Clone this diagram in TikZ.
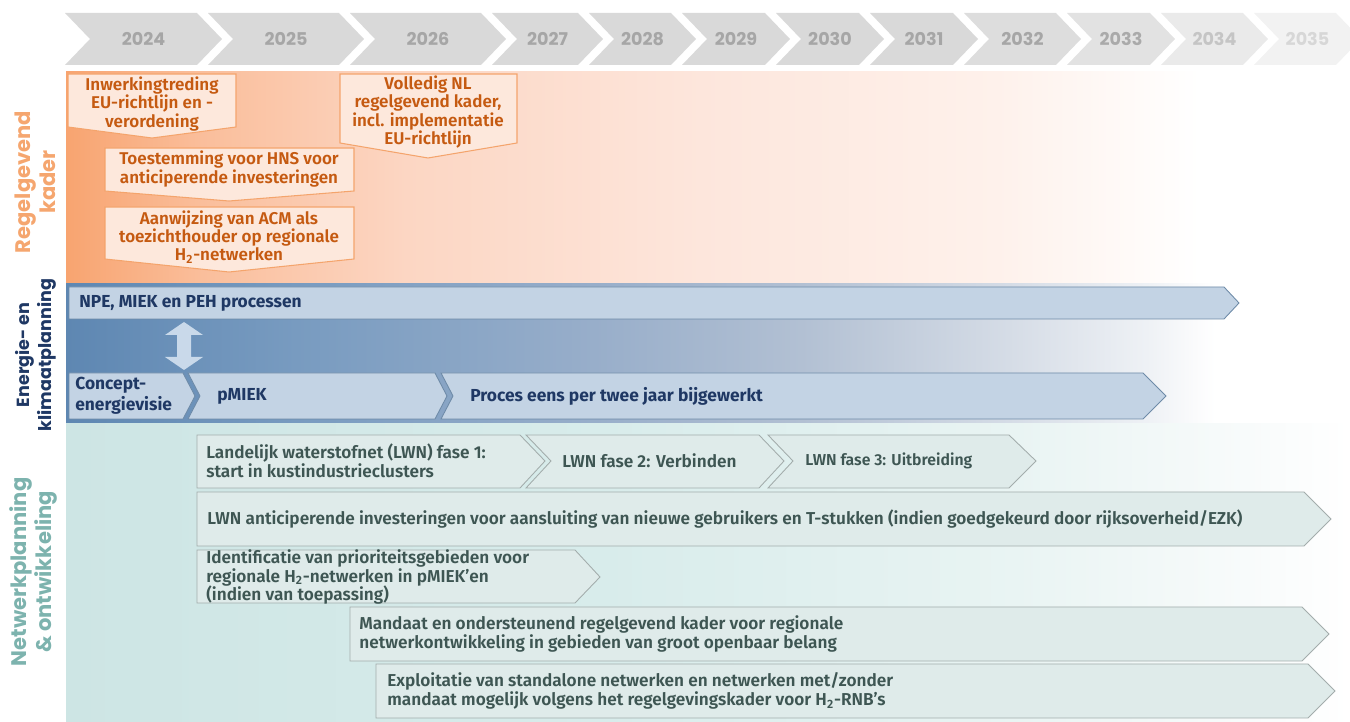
\documentclass[tikz,border=0pt]{standalone}
\usepackage{fontspec}
\setmainfont{Fira Sans}[BoldFont={Fira Sans SemiBold}]
\newfontfamily\headfont{Poppins}
\newfontfamily\navyfont{Fira Sans Bold}
\definecolor{yearfill}{HTML}{D9D9D9}
\definecolor{yeartxt}{HTML}{A6A6A6}
\definecolor{oA}{RGB}{248,164,112}
\definecolor{oB}{RGB}{250,190,155}
\definecolor{oC}{RGB}{252,214,195}
\definecolor{oD}{RGB}{253,230,220}
\definecolor{oE}{RGB}{254,241,235}
\definecolor{bA}{RGB}{94,135,178}
\definecolor{bB}{RGB}{120,155,192}
\definecolor{bC}{RGB}{152,174,202}
\definecolor{bD}{RGB}{178,192,211}
\definecolor{bE}{RGB}{213,220,230}
\definecolor{bF}{RGB}{238,241,245}
\definecolor{tA}{RGB}{205,229,228}
\definecolor{tB}{RGB}{216,236,235}
\definecolor{tC}{RGB}{233,244,243}
\definecolor{tD}{RGB}{248,251,251}
\definecolor{orangeline}{HTML}{F4A46C}
\definecolor{orangefill}{HTML}{FDE8DC}
\definecolor{orangetxt}{HTML}{C55A11}
\definecolor{sideorange}{HTML}{F5A66F}
\definecolor{bluefill}{HTML}{C3D3E4}
\definecolor{blueline}{HTML}{6E8BA8}
\definecolor{arrowblue}{HTML}{C9D9EA}
\definecolor{navy}{HTML}{1F3864}
\definecolor{tealfill}{HTML}{DFEBEA}
\definecolor{tealline}{HTML}{A3ADAC}
\definecolor{tealdark}{HTML}{3E5653}
\definecolor{sideteal}{HTML}{7DB3AE}
\pgfdeclarehorizontalshading{orangeband}{100bp}{color(0bp)=(oA); color(25bp)=(oA); color(31bp)=(oB); color(40bp)=(oC); color(53bp)=(oD); color(66bp)=(oE); color(75bp)=(white); color(100bp)=(white)}
\pgfdeclarehorizontalshading{blueband}{100bp}{color(0bp)=(bA); color(25bp)=(bA); color(35bp)=(bB); color(48bp)=(bC); color(57bp)=(bD); color(66bp)=(bE); color(72bp)=(bF); color(75bp)=(white); color(100bp)=(white)}
\pgfdeclarehorizontalshading{tealband}{100bp}{color(0bp)=(tA); color(25bp)=(tA); color(46bp)=(tB); color(62bp)=(tC); color(71bp)=(tD); color(75bp)=(white); color(100bp)=(white)}
\begin{document}
\begin{tikzpicture}[x=0.02cm,y=-0.02cm,
  yearlbl/.style={font=\headfont\bfseries\fontsize{10}{12}\selectfont},
  sidelbl/.style={rotate=90,align=center,inner sep=0pt},
  callout/.style={draw=orangeline,fill=orangefill,line width=0.6pt},
  callouttxt/.style={align=center,text=orangetxt,inner sep=0pt,font=\bfseries\fontsize{9.7}{10.3}\selectfont},
  bluebox/.style={draw=blueline,fill=bluefill,line width=0.5pt},
  bluetxt/.style={anchor=west,align=left,text=navy,inner sep=0pt,font=\navyfont\fontsize{9.9}{12}\selectfont},
  tealbox/.style={draw=tealline,fill=tealfill,line width=0.5pt},
  tealtxt/.style={anchor=west,align=left,text=tealdark,inner sep=0pt,font=\bfseries\fontsize{9.8}{10.8}\selectfont}]
\useasboundingbox (0,0) rectangle (1350,722);
% years
\foreach \L/\R/\yr/\fc/\tc in {65/197/2024/yearfill/yeartxt,208/339/2025/yearfill/yeartxt,
  350/481/2026/yearfill/yeartxt,492/578/2027/yearfill/yeartxt,589/671/2028/yearfill/yeartxt,
  682/765/2029/yearfill/yeartxt,776/859/2030/yearfill/yeartxt,870/953/2031/yearfill/yeartxt,
  964/1056/2032/yearfill!90!white/yeartxt,1067/1150/2033/yearfill!75!white/yeartxt!95!white,
  1161/1243/2034/yearfill!55!white/yeartxt!65!white,1254/1336/2035/yearfill!35!white/yeartxt!45!white}{
  \fill[\fc] (\L,13) -- (\R,13) -- (\R+25,39) -- (\R,65) -- (\L,65) -- (\L+25,39) -- cycle;
  \node[yearlbl,text=\tc] (y\yr) at ({(\L+\R)/2+12.5},39) {\yr};
}
% bands
\shade[shading=orangeband] (66,72) rectangle (1200,284);
\shade[shading=blueband] (66,284) rectangle (1215,424);
\shade[shading=tealband] (66,424) rectangle (1350,722);
\node[sidelbl,text=sideorange,font=\headfont\bfseries\fontsize{12}{14.2}\selectfont] (regel) at (35,182) {Regelgevend\\kader};
\node[sidelbl,text=navy,font=\headfont\bfseries\fontsize{10}{12.5}\selectfont] (energie) at (36,355) {Energie- en\\klimaatplanning};
\node[sidelbl,text=sideteal,font=\headfont\bfseries\fontsize{12}{14.2}\selectfont] (netwerk) at (33,572) {Netwerkplanning\\\& ontwikkeling};
% regelgevend kader
\draw[callout] (68,74) -- (236,74) -- (236,127) -- (152,138) -- (68,127) -- cycle;
\node[callouttxt] (inwerking) at (152,104) {Inwerkingtreding\\EU-richtlijn en -\\verordening};
\draw[callout] (340,74) -- (517,74) -- (517,143) -- (428,158) -- (340,143) -- cycle;
\node[callouttxt] (volledig) at (428,112) {Volledig NL\\regelgevend kader,\\incl. implementatie\\EU-richtlijn};
\draw[callout] (105,148) -- (354,148) -- (354,191) -- (229,201) -- (105,191) -- cycle;
\node[callouttxt] (toestemming) at (229,169) {Toestemming voor HNS voor\\anticiperende investeringen};
\draw[callout] (105,207) -- (354,207) -- (354,259) -- (229,272) -- (105,259) -- cycle;
\node[callouttxt] (aanwijzing) at (229,237) {Aanwijzing van ACM als\\toezichthouder op regionale\\H\textsubscript{2}-netwerken};
% energie- en klimaatplanning
\draw[bluebox] (69,287) -- (1224,287) -- (1239,303) -- (1224,319) -- (69,319) -- cycle;
\node[bluetxt] (npe) at (79,303) {NPE, MIEK en PEH processen};
\fill[arrowblue] (177,335) -- (165,335) -- (184,322) -- (203,335) -- (191,335) -- (191,357)
  -- (203,357) -- (184,370) -- (165,357) -- (177,357) -- cycle;
\draw[bluebox] (69,373) -- (183,373) -- (195,396) -- (183,419) -- (69,419) -- cycle;
\node[bluetxt] (concept) at (75,396) {Concept-\\energievisie};
\draw[bluebox] (188,373) -- (435,373) -- (447,396) -- (435,419) -- (188,419) -- (200,396) -- cycle;
\node[bluetxt] (pmiek) at (217,396) {pMIEK};
\draw[bluebox] (441,373) -- (1143,373) -- (1166,396) -- (1143,419) -- (441,419) -- (453,396) -- cycle;
\node[bluetxt] (proces) at (470,396) {Proces eens per twee jaar bijgewerkt};
% netwerkplanning
\draw[tealbox] (197,435) -- (520,435) -- (545,461) -- (520,488) -- (197,488) -- cycle;
\node[tealtxt] (fase1) at (206,461) {Landelijk waterstofnet (LWN) fase 1:\\start in kustindustrieclusters};
\draw[tealbox] (526,435) -- (759,435) -- (784,461) -- (759,488) -- (526,488) -- (551,461) -- cycle;
\node[tealtxt] (fase2) at (562,461) {LWN fase 2: Verbinden};
\draw[tealbox] (768,435) -- (1009,435) -- (1036,461) -- (1009,488) -- (768,488) -- (793,461) -- cycle;
\node[tealtxt,font=\bfseries\fontsize{9}{10}\selectfont] (fase3) at (805,461) {LWN fase 3: Uitbreiding};
\draw[tealbox] (197,492) -- (1304,492) -- (1331,519) -- (1304,546) -- (197,546) -- cycle;
\node[tealtxt] (antic) at (207,519) {LWN anticiperende investeringen voor aansluiting van nieuwe gebruikers en T-stukken (indien goedgekeurd door rijksoverheid/EZK)};
\draw[tealbox] (197,550) -- (575,550) -- (600,577) -- (575,603) -- (197,603) -- cycle;
\node[tealtxt] (ident) at (206,577) {Identificatie van prioriteitsgebieden voor\\regionale H\textsubscript{2}-netwerken in pMIEK’en\\(indien van toepassing)};
\draw[tealbox] (350,607) -- (1302,607) -- (1329,634) -- (1302,661) -- (350,661) -- cycle;
\node[tealtxt] (mandaat) at (359,634) {Mandaat en ondersteunend regelgevend kader voor regionale\\netwerkontwikkeling in gebieden van groot openbaar belang};
\draw[tealbox] (376,664) -- (1308,664) -- (1335,691) -- (1308,718) -- (376,718) -- cycle;
\node[tealtxt] (exploit) at (387,691) {Exploitatie van standalone netwerken en netwerken met/zonder\\mandaat mogelijk volgens het regelgevingskader voor H\textsubscript{2}-RNB’s};
\end{tikzpicture}
\end{document}
